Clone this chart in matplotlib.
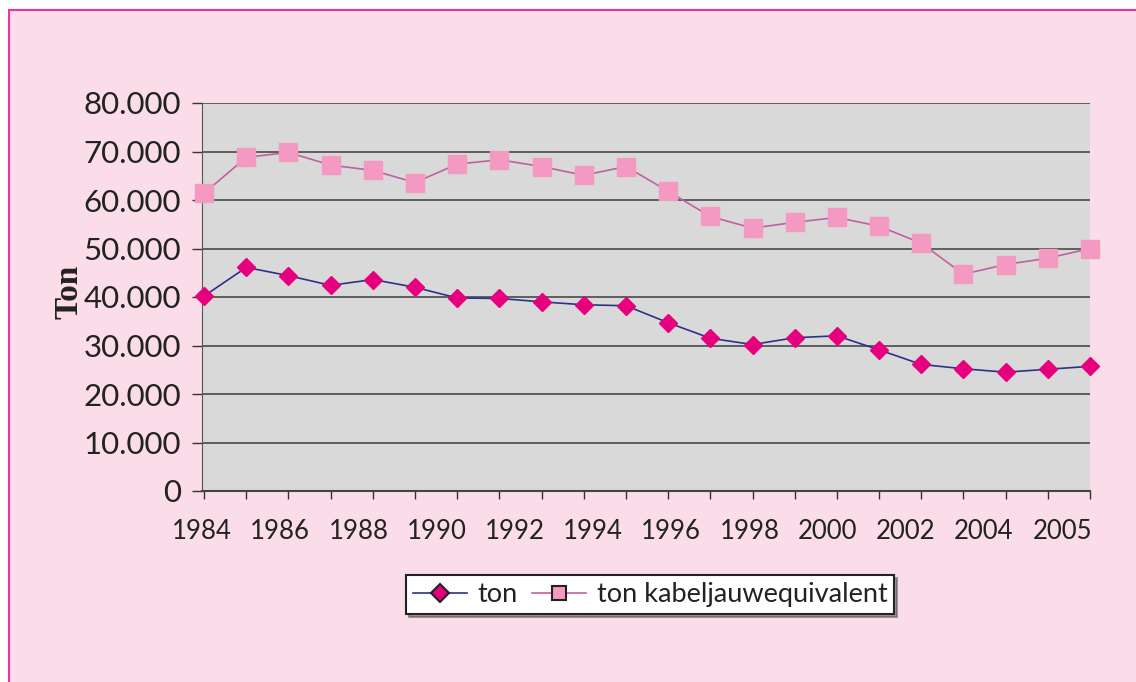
import numpy as np
import matplotlib
matplotlib.use("Agg")
import matplotlib.pyplot as plt
from matplotlib.lines import Line2D
from matplotlib.patches import Rectangle
from matplotlib.ticker import FuncFormatter

# Data
years = list(range(1984, 2006))
ton = [40200, 46100, 44400, 42400, 43600, 42000, 39800, 39700, 39000, 38400,
       38200, 34700, 31500, 30200, 31600, 32000, 29100, 26100, 25200, 24500,
       25100, 25700]
ton_kab = [61400, 68800, 69800, 67200, 66100, 63600, 67400, 68300, 66900, 65100,
           66900, 61800, 56600, 54200, 55400, 56400, 54600, 51100, 44700, 46700,
           48000, 50000]
xlabels = ['1984', '1986', '1988', '1990', '1992', '1994', '1996', '1998',
           '2000', '2002', '2004', '2005']

bg = '#FADDE8'
plot_bg = '#D9D9D9'
c_ton = '#E6007E'
c_kab = '#F49AC2'
line_ton = '#2E3286'
line_kab = '#C060A2'

fig = plt.figure(figsize=(11.36, 6.82), dpi=100, facecolor='white')
# pink frame
fig.patches.append(Rectangle((9/1136, -0.1), 1.2, 1.1 - 10/682, transform=fig.transFigure,
                             facecolor=bg, edgecolor='#F0309F', lw=1.5, zorder=-1))

ax = fig.add_axes([202/1136, 1 - 491/682, 888/1136, 388/682])
ax.set_facecolor(plot_bg)

x = np.arange(len(years))
ax.plot(x, ton_kab, color=line_kab, lw=1.2, marker='s', ms=13, mfc=c_kab, mec=c_kab, zorder=3,
        clip_on=False)
ax.plot(x, ton, color=line_ton, lw=1.2, marker='D', ms=9, mfc=c_ton, mec=c_ton, zorder=3,
        clip_on=False)

ax.set_xlim(0, len(years) - 1)
ax.set_ylim(0, 80000)
ax.set_yticks(np.arange(0, 80001, 10000))
ax.yaxis.set_major_formatter(FuncFormatter(lambda v, p: f'{int(v):,}'.replace(',', '.')))
ax.yaxis.grid(True, color='#555555', lw=1.3)
ax.set_axisbelow(True)

# ticks at every year, labels spaced evenly underneath
ax.set_xticks(x)
ax.set_xticklabels([])
ax.set_xticks(np.linspace(-0.05, 20.34, len(xlabels)), minor=True)
ax.set_xticklabels(xlabels, minor=True)
ax.tick_params(axis='x', which='major', direction='out', length=6, width=1, color='#333333')
ax.tick_params(axis='x', which='minor', length=0, pad=20, labelsize=18.5, labelcolor='#222222')
ax.tick_params(axis='y', direction='out', length=7, width=1, color='#333333', pad=8,
               labelsize=22.5, labelcolor='#222222')
for lab in ax.get_xticklabels(minor=True) + ax.get_yticklabels():
    lab.set_fontfamily('Lato')

for s in ['top', 'right']:
    ax.spines[s].set_visible(False)
ax.spines['left'].set_color('#555555')
ax.spines['bottom'].set_color('#444444')
ax.spines['bottom'].set_linewidth(1.5)

fig.text(69/1136, 1 - 292/682, 'Ton', rotation=90, ha='center', va='center',
         fontsize=24, fontweight='bold', family='Liberation Serif', color='#222222')

handles = [
    Line2D([], [], color=line_ton, lw=1.2, marker='D', ms=9, mfc=c_ton, mec='#222222', mew=1.5),
    Line2D([], [], color=line_kab, lw=1.2, marker='s', ms=10, mfc=c_kab, mec='#222222', mew=1.5),
]
leg = fig.legend(handles, ['ton', 'ton kabeljauwequivalent'], loc='center',
                 bbox_to_anchor=(650/1136, 1 - 594.5/682), ncol=2, frameon=True,
                 fancybox=False, shadow=True, prop={'family': 'Lato', 'size': 19.5},
                 handlelength=2.0, columnspacing=0.5, handletextpad=0.4,
                 borderpad=0.25, borderaxespad=0)
leg.get_frame().set_edgecolor('#222222')
leg.get_frame().set_linewidth(1.5)
for t in leg.get_texts():
    t.set_color('#222222')

fig.savefig('out.png', dpi=100, facecolor=fig.get_facecolor())
